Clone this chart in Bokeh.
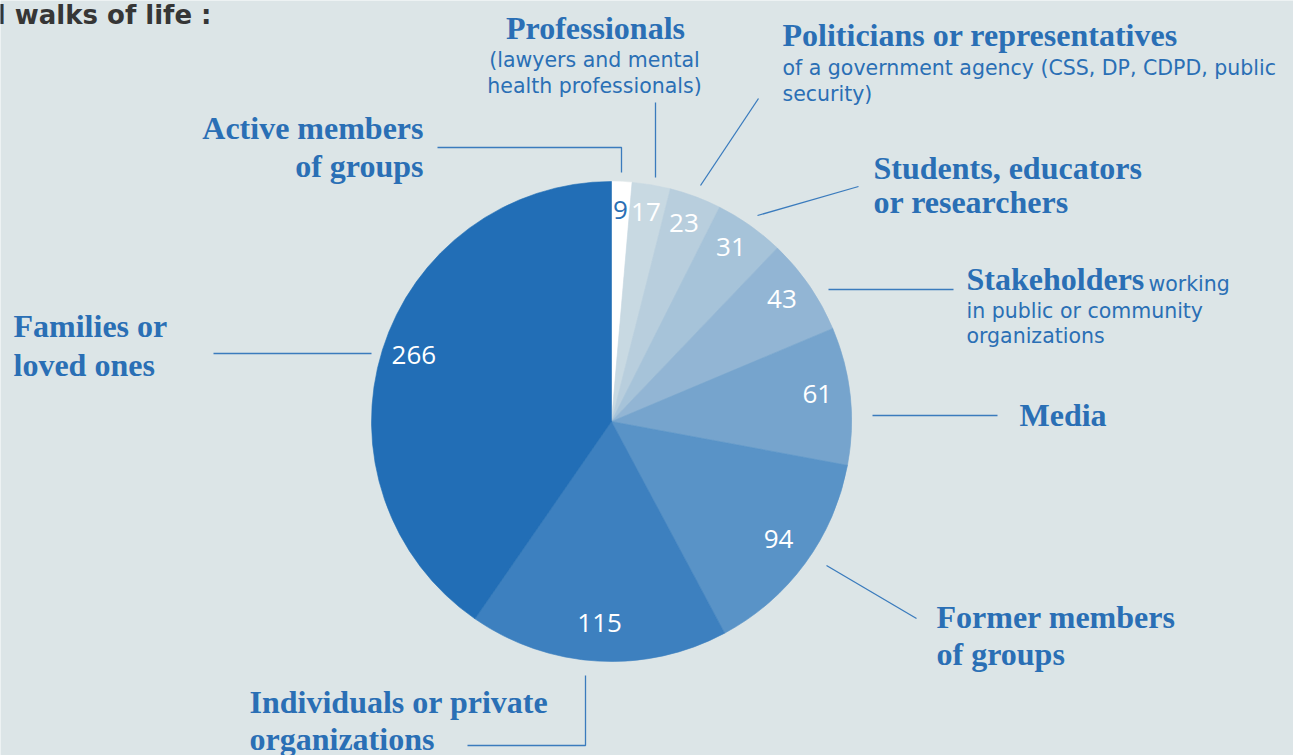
import numpy as np
from bokeh.plotting import figure
from bokeh.models import Range1d, ColumnDataSource
from bokeh.core.properties import value
from bokeh.embed import file_html
from bokeh.resources import INLINE

# ---------------- data ----------------
categories = [
    "Active members of groups",
    "Professionals",
    "Politicians or representatives",
    "Students, educators or researchers",
    "Stakeholders",
    "Media",
    "Former members of groups",
    "Individuals or private organizations",
    "Families or loved ones",
]
counts = [9, 17, 23, 31, 43, 61, 94, 115, 266]
slice_colors = ["#ffffff", "#c8d9e2", "#b8cedd", "#a6c3d9", "#92b5d4",
                "#76a4cd", "#5993c7", "#3d80bf", "#226eb6"]
count_text_colors = ["#2a6fb5"] + ["#ffffff"] * 8

BG = "#dce5e7"
BLUE = "#2a6fb5"
LINE = "#3a7bbd"

W, H = 1293, 755
CX, CY = 611, 421   # pie centre (page pixels)
R = 240


def X(px):
    return px - CX


def Y(py):
    return CY - py


p = figure(width=W, height=H,
           x_range=Range1d(X(0), X(W)), y_range=Range1d(Y(H), Y(0)),
           output_backend="svg", toolbar_location=None,
           x_axis_location=None, y_axis_location=None, min_border=0)
p.grid.visible = False
p.outline_line_color = None
p.background_fill_color = BG
p.border_fill_color = BG

# ---------------- pie ----------------
vals = np.array(counts, dtype=float)
total = vals.sum()
cum = np.concatenate([[0], np.cumsum(vals)])
start = np.pi / 2 - 2 * np.pi * cum[:-1] / total
end = np.pi / 2 - 2 * np.pi * cum[1:] / total
mid = (start + end) / 2

src = ColumnDataSource(dict(start=start, end=end, color=slice_colors,
                            cat=categories, cnt=counts))
p.wedge(x=0, y=0, radius=R, start_angle="start", end_angle="end",
        direction="clock", fill_color="color", line_color="color",
        line_width=0.6, source=src)

r_lab = 207
lab_src = ColumnDataSource(dict(x=r_lab * np.cos(mid), y=r_lab * np.sin(mid),
                                t=[str(c) for c in counts],
                                c=count_text_colors))
p.text(x="x", y="y", text="t", text_color="c", source=lab_src,
       text_font=value("Open Sans"), text_font_size="26px",
       text_align="center", text_baseline="middle", y_offset=-5)

# ---------------- leader lines ----------------
leaders = [
    [(437, 147), (621, 147), (621, 172)],
    [(655, 102), (655, 177)],
    [(758, 98), (700, 185)],
    [(757, 215), (858, 186)],
    [(828, 289), (953, 289)],
    [(872, 415), (997, 415)],
    [(826, 565), (916, 618)],
    [(585, 675), (585, 745), (467, 745)],
    [(213, 353), (371, 353)],
]
p.multi_line(xs=[[X(a) for a, b in L] for L in leaders],
             ys=[[Y(b) for a, b in L] for L in leaders],
             line_color=LINE, line_width=1.3)

# ---------------- labels ----------------
serif_labels = [
    ("Professionals", 595, 27, "center"),
    ("Politicians or representatives", 782, 34, "left"),
    ("Active members", 423, 127, "right"),
    ("of groups", 423, 165, "right"),
    ("Students, educators", 873, 167, "left"),
    ("or researchers", 873, 201, "left"),
    ("Stakeholders", 966, 278, "left"),
    ("Families or", 13, 325, "left"),
    ("loved ones", 13, 364, "left"),
    ("Media", 1019, 414, "left"),
    ("Former members", 936, 616, "left"),
    ("of groups", 936, 653, "left"),
    ("Individuals or private", 249, 701, "left"),
    ("organizations", 249, 738, "left"),
]
for t, px, py, al in serif_labels:
    p.text(x=[X(px)], y=[Y(py)], text=[t], text_color=BLUE,
           text_font=value("Liberation Serif"), text_font_style="bold",
           text_font_size="32px", text_align=al, text_baseline="alphabetic")

sans_labels = [
    ("(lawyers and mental", 594, 59, "center"),
    ("health professionals)", 594, 85, "center"),
    ("of a government agency (CSS, DP, CDPD, public", 782, 67, "left"),
    ("security)", 782, 93, "left"),
    ("working", 1148, 283, "left"),
    ("in public or community", 966, 310, "left"),
    ("organizations", 966, 335, "left"),
]
for t, px, py, al in sans_labels:
    p.text(x=[X(px)], y=[Y(py)], text=[t], text_color=BLUE,
           text_font=value("DejaVu Sans"), text_font_size="20.5px",
           text_align=al, text_baseline="alphabetic")

p.text(x=[X(211)], y=[Y(14)], text=["all walks of life :"], text_color="#363636",
       text_font=value("DejaVu Sans"), text_font_style="bold",
       text_font_size="26px", text_align="right", text_baseline="alphabetic")

open("out.html", "w").write(file_html(p, INLINE))
